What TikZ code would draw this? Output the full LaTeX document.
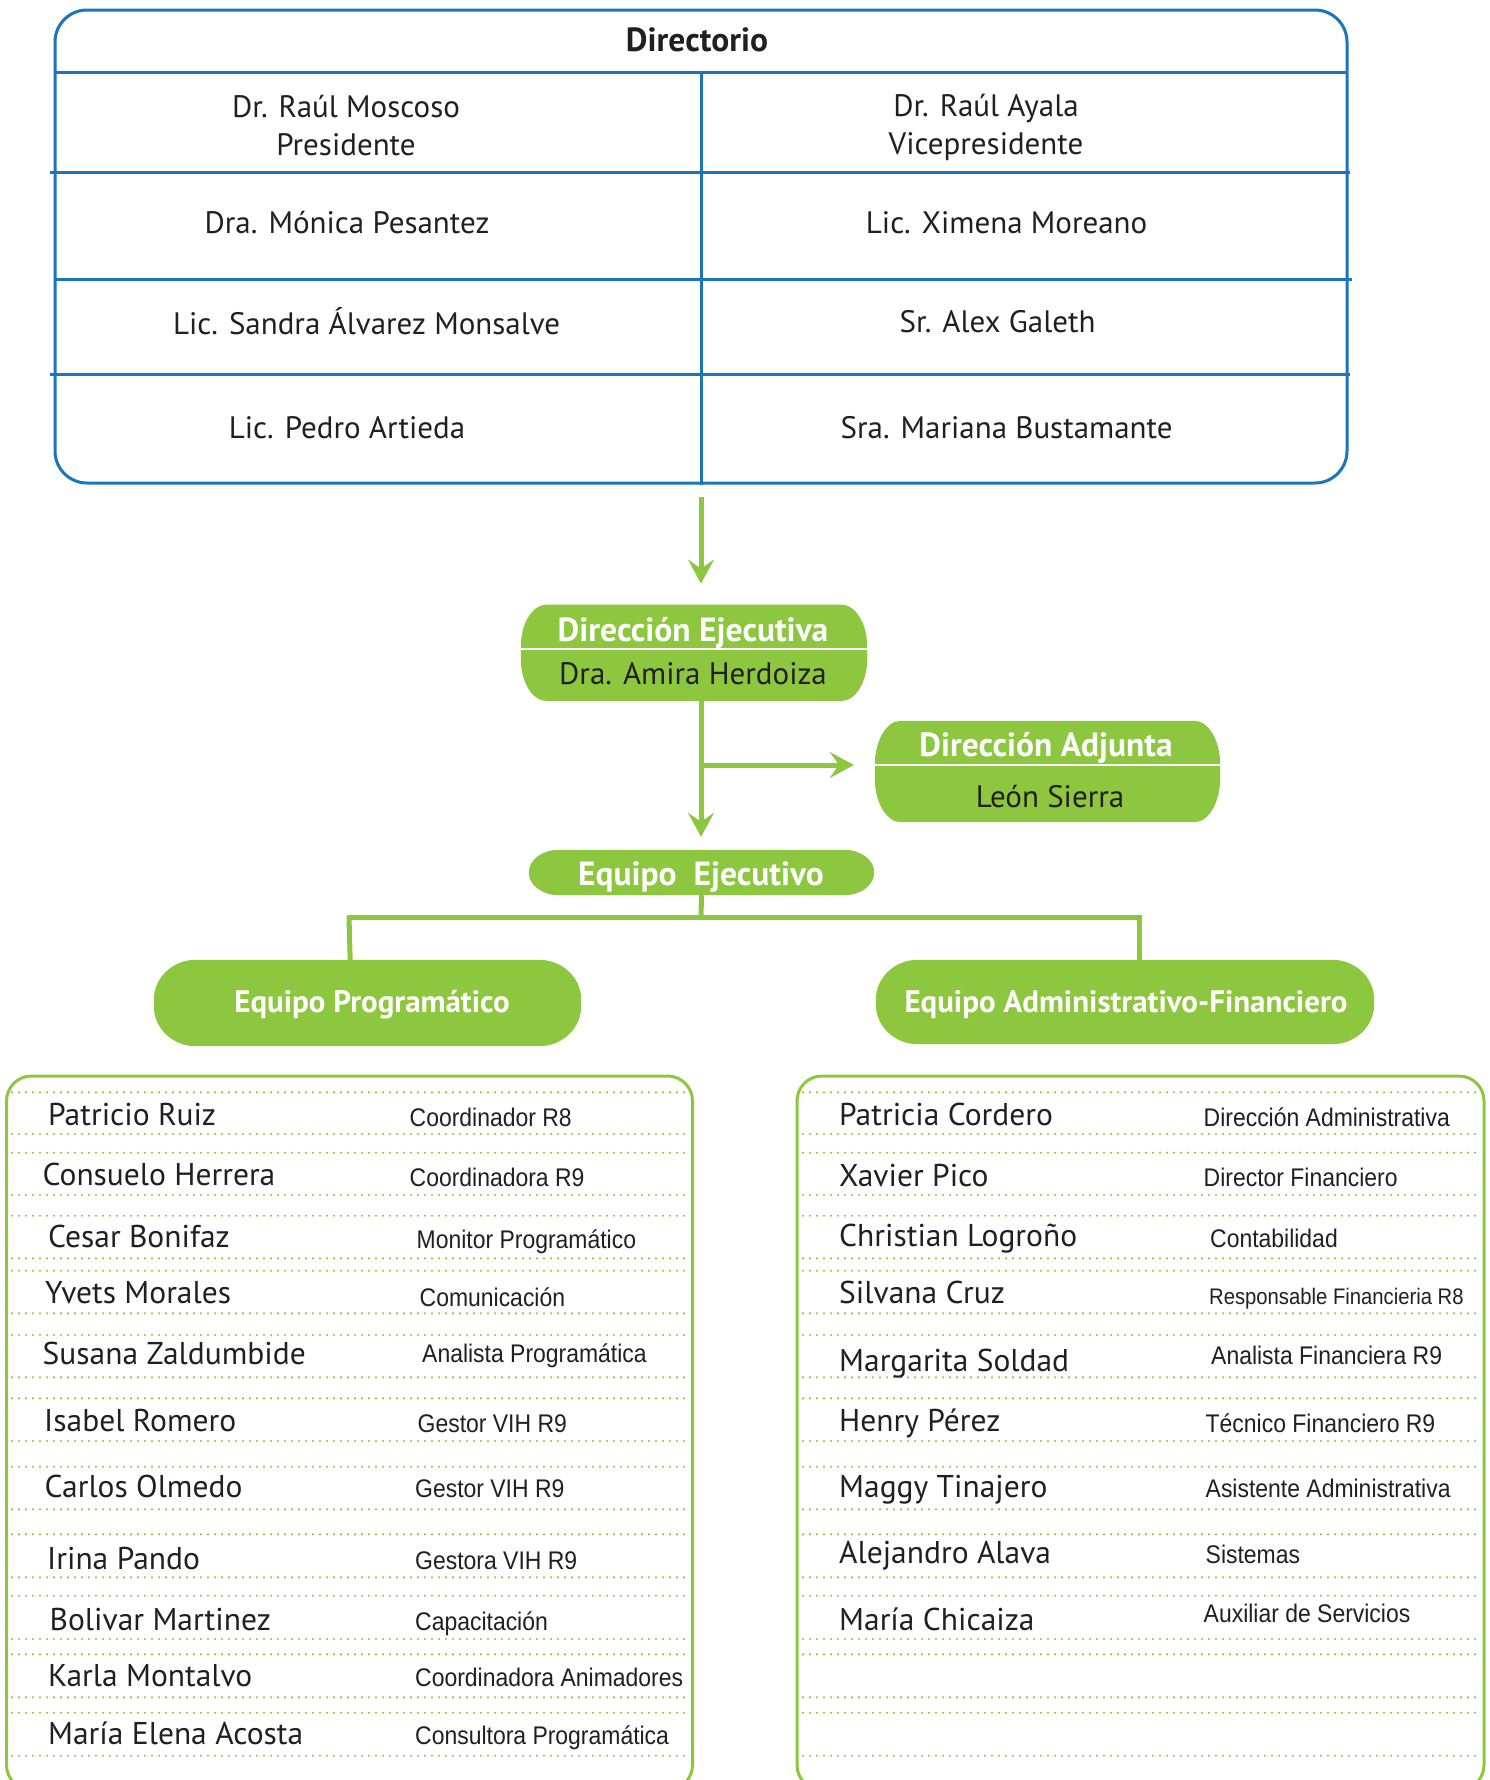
\documentclass[tikz,border=0pt]{standalone}
\usepackage{fontspec}
\setmainfont{PT Sans}
\newfontfamily\rolefont[FakeStretch=0.9]{Liberation Sans}
\usetikzlibrary{arrows.meta,calc}
\definecolor{gr}{RGB}{141,198,63}
\definecolor{bl}{RGB}{27,117,188}
\definecolor{tx}{RGB}{35,31,32}
\newcommand{\gshape}[3]{%
\fill[gr] ($(#1.north west)+(#2,0)$) -- ($(#1.north east)+(-#2,0)$)
 arc[start angle=90,end angle=0,x radius=#2pt,y radius=#3pt]
 -- ($(#1.south east)+(0,#3)$)
 arc[start angle=0,end angle=-90,x radius=#2pt,y radius=#3pt]
 -- ($(#1.south west)+(#2,0)$)
 arc[start angle=270,end angle=180,x radius=#2pt,y radius=#3pt]
 -- ($(#1.north west)+(0,-#3)$)
 arc[start angle=180,end angle=90,x radius=#2pt,y radius=#3pt] -- cycle;}
\begin{document}
\begin{tikzpicture}[x=1pt,y=1pt,
  cell/.style={inner sep=0pt, text=tx, font=\fontsize{31}{37.5}\selectfont, align=center},
  ttl/.style={inner sep=0pt, text=tx, font=\bfseries\fontsize{33.5}{38}\selectfont},
  wt/.style={inner sep=0pt, text=white, font=\bfseries\fontsize{33.5}{38}\selectfont},
  wts/.style={inner sep=0pt, text=white, font=\bfseries\fontsize{31}{36}\selectfont},
  dk/.style={inner sep=0pt, text=tx, font=\fontsize{31}{36}\selectfont},
  boxn/.style={inner sep=0pt, minimum width=#1},
  nm/.style={anchor=base west, inner sep=0pt, text=tx, font=\fontsize{31.5}{36}\selectfont},
  rl/.style={anchor=base west, inner sep=0pt, text=tx, font=\rolefont\fontsize{25.5}{30}\selectfont},
  rls/.style={anchor=base west, inner sep=0pt, text=tx, font=\rolefont\fontsize{22.5}{27}\selectfont},
  dots/.style={gr, line width=2.4pt, line cap=round, dash pattern=on 0pt off 7pt},
  conn/.style={gr, line width=5pt},
  arr/.style={conn, -{Stealth[length=24pt,width=26pt,inset=9pt]}},
  bline/.style={bl, line width=3pt},
  wline/.style={white, line width=2.5pt},
  lbox/.style={draw=gr, line width=3pt, rounded corners=25pt, inner sep=0pt}
]
\useasboundingbox (0,0) rectangle (1489,-1780);
\fill[white] (0,0) rectangle (1489,-1780);

% ---------------- Directorio ----------------
\node[draw=bl, line width=3pt, rounded corners=32pt, minimum width=1292pt, minimum height=473pt, inner sep=0pt] (dir) at (701,-246.5) {};
\draw[bline] (55,-72.6) -- (1347,-72.6);
\draw[bline] (50,-172.5) -- (1350,-172.5);
\draw[bline] (55,-279) -- (1352,-279);
\draw[bline] (50,-374.5) -- (1350,-374.5);
\draw[bline] (701,-72.6) -- (dir.south);

\node[ttl] (t0) at (697,-40) {Directorio};
\node[cell] (c11) at (346,-125.5) {Dr. Raúl Moscoso\\Presidente};
\node[cell] (c12) at (986,-127.5) {Dr. Raúl Ayala\\Vicepresidente};
\node[cell] (c21) at (347,-223) {Dra. Mónica Pesantez};
\node[cell] (c22) at (1006.6,-223) {Lic. Ximena Moreano};
\node[cell] (c31) at (366.6,-321) {Lic. Sandra Álvarez Monsalve};
\node[cell] (c32) at (997.6,-322) {Sr. Alex Galeth};
\node[cell] (c41) at (347,-428) {Lic. Pedro Artieda};
\node[cell] (c42) at (1006.6,-428) {Sra. Mariana Bustamante};

% ---------------- Dirección Ejecutiva ----------------
\node[boxn=346pt, minimum height=96pt] (de) at (694,-652.8) {};
\gshape{de}{26}{42}
\draw[wline] (de.west |- 0,-649) -- (de.east |- 0,-649);
\node[wt] (de1) at (693,-632.5) {Dirección Ejecutiva};
\node[dk] (de2) at (693,-674) {Dra. Amira Herdoiza};

% ---------------- Dirección Adjunta ----------------
\node[boxn=345pt, minimum height=101pt] (da) at (1047.5,-771.5) {};
\gshape{da}{26}{44}
\draw[wline] (da.west |- 0,-765) -- (da.east |- 0,-765);
\node[wt] (da1) at (1046,-748) {Dirección Adjunta};
\node[dk] (da2) at (1050,-796.5) {León Sierra};

% ---------------- Equipo Ejecutivo ----------------
\node[boxn=345pt, minimum height=45pt] (ee) at (701.5,-872.5) {};
\gshape{ee}{30}{22.5}
\node[wt] (ee1) at (701,-877) {Equipo~~Ejecutivo};

% ---------------- Equipos ----------------
\node[boxn=427pt, minimum height=86pt] (ep) at (367.5,-1003) {};
\node[boxn=498pt, minimum height=84pt] (ea) at (1125,-1002) {};

% connectors
\draw[arr, shorten <=12pt, shorten >=21pt] (dir.south) -- (dir.south |- de.north);
\coordinate (br) at (701,-765);
\draw[conn] ($(de.south -| dir.south)+(0,8)$) -- (br);
\draw[arr, shorten >=13pt] (br) -- (br |- ee.north);
\draw[arr, shorten >=21pt] (br) -- (br -| da.west);
\coordinate (bj) at (701,-917);
\coordinate (bjl) at (349,-917);
\coordinate (bjr) at (1139,-917);
\draw[conn] (ee.south) -- (bj);
\draw[conn] ($(bjl)+(-2.5,0)$) -- ($(bjr)+(2.5,0)$);
\draw[conn] (bjl) -- ($(bjl |- ep.north)+(1.5,-12)$);
\draw[conn] (bjr) -- ($(bjr |- ea.north)+(0,-12)$);

\gshape{ep}{42}{40}
\gshape{ea}{42}{40}
\node[wts] (ep1) at (372,-1005) {Equipo Programático};
\node[wts] (ea1) at (1126,-1005) {Equipo Administrativo-Financiero};

% ---------------- Lists ----------------
\node[lbox, minimum width=686pt, minimum height=714pt] (lp) at (349.5,-1433) {};
\node[lbox, minimum width=687pt, minimum height=714pt] (la) at (1140.5,-1433) {};
\foreach \y in {1092.3,1134,1152.7,1195,1215.7,1258.3,1270.7,1313.3,1335,1377.3,1398.3,1441,1466.7,1509.3,1534.3,1577.3,1595.7,1639,1654.3,1697.3,1712.7,1755.7}{
  \draw[dots] (12,-\y) -- (690,-\y);
  \draw[dots] (803,-\y) -- (1482,-\y);
}

% left names
\node[nm] (n1) at (48,-1125) {Patricio Ruiz};
\node[nm] (n2) at (42.5,-1185) {Consuelo Herrera};
\node[nm] (n3) at (48,-1247.3) {Cesar Bonifaz};
\node[nm] (n4) at (45,-1303.3) {Yvets Morales};
\node[nm] (n5) at (42.5,-1364) {Susana Zaldumbide};
\node[nm] (n6) at (44,-1431.7) {Isabel Romero};
\node[nm] (n7) at (44.5,-1497.3) {Carlos Olmedo};
\node[nm] (n8) at (47,-1569) {Irina Pando};
\node[nm] (n9) at (49.5,-1630) {Bolivar Martinez};
\node[nm] (n10) at (48,-1686) {Karla Montalvo};
\node[nm] (n11) at (48,-1744) {María Elena Acosta};
% left roles
\node[rl] (r1) at (409.5,-1126.7) {Coordinador R8};
\node[rl] (r2) at (409.5,-1186) {Coordinadora R9};
\node[rl] (r3) at (416.5,-1248.3) {Monitor Programático};
\node[rl] (r4) at (419.5,-1306.7) {Comunicación};
\node[rl] (r5) at (422,-1362.7) {Analista Programática};
\node[rl] (r6) at (417.5,-1432.7) {Gestor VIH R9};
\node[rl] (r7) at (415,-1497.3) {Gestor VIH R9};
\node[rl] (r8) at (415,-1569) {Gestora VIH R9};
\node[rl] (r9) at (415,-1630.7) {Capacitación};
\node[rl] (r10) at (415,-1686.7) {Coordinadora Animadores};
\node[rl] (r11) at (415,-1744) {Consultora Programática};

% right names
\node[nm] (m1) at (839,-1125) {Patricia Cordero};
\node[nm] (m2) at (839,-1186) {Xavier Pico};
\node[nm] (m3) at (839,-1246.7) {Christian Logroño};
\node[nm] (m4) at (839,-1303.3) {Silvana Cruz};
\node[nm] (m5) at (839,-1371.7) {Margarita Soldad};
\node[nm] (m6) at (839,-1431.7) {Henry Pérez};
\node[nm] (m7) at (839,-1497.3) {Maggy Tinajero};
\node[nm] (m8) at (839,-1563.3) {Alejandro Alava};
\node[nm] (m9) at (839,-1630) {María Chicaiza};
% right roles
\node[rl] (s1) at (1203.5,-1126) {Dirección Administrativa};
\node[rl] (s2) at (1203.5,-1186) {Director Financiero};
\node[rl] (s3) at (1210,-1247.3) {Contabilidad};
\node[rls] (s4) at (1209,-1304) {Responsable Financieria R8};
\node[rl] (s5) at (1211,-1364) {Analista Financiera R9};
\node[rl] (s6) at (1205.5,-1432.7) {Técnico Financiero R9};
\node[rl] (s7) at (1205.5,-1497.3) {Asistente Administrativa};
\node[rl] (s8) at (1205.5,-1563.3) {Sistemas};
\node[rl] (s9) at (1203.5,-1622.3) {Auxiliar de Servicios};
\end{tikzpicture}
\end{document}
